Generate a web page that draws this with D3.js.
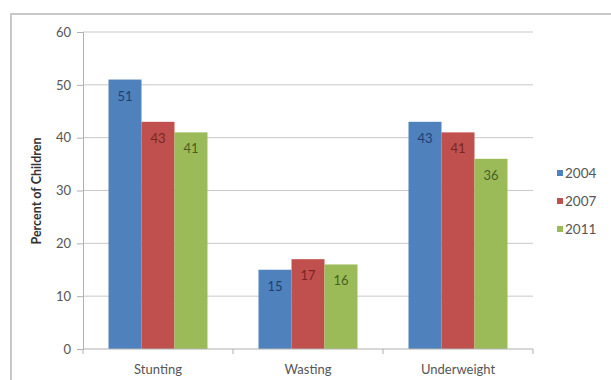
<!DOCTYPE html>
<html>
<head>
<meta charset="utf-8">
<script src="https://cdn.jsdelivr.net/npm/d3@7"></script>
<style>
  html, body { margin: 0; padding: 0; background: #fff; }
  svg { display: block; }
  text { font-family: Lato, "Open Sans", sans-serif; }
</style>
</head>
<body>
<svg id="chart" width="611" height="380"></svg>
<script>
// Child malnutrition indicators by survey year
const categories = ["Stunting", "Wasting", "Underweight"];
const years = ["2004", "2007", "2011"];
const values2004 = [51, 15, 43];
const values2007 = [43, 17, 41];
const values2011 = [41, 16, 36];
const yTicks = [0, 10, 20, 30, 40, 50, 60];

const seriesValues = [values2004, values2007, values2011];
const colors = ["#4f81bd", "#c0504d", "#9bbb59"];
const labelColors = ["#1f3f6e", "#7a2624", "#4a5f1e"];

const svg = d3.select("#chart");

// outer chart frame
svg.append("rect")
  .attr("x", 11).attr("y", 14)
  .attr("width", 640).attr("height", 400)
  .attr("fill", "none").attr("stroke", "#c8c8c8").attr("stroke-width", 2);

const plot = { left: 83, right: 533, top: 32, bottom: 349 };

const x = d3.scaleBand()
  .domain(categories)
  .range([plot.left, plot.right])
  .paddingInner(0.34)
  .paddingOuter(0.17);

const xs = d3.scaleBand()
  .domain(years)
  .range([0, x.bandwidth()]);

const y = d3.scaleLinear()
  .domain([0, 60])
  .range([plot.bottom, plot.top]);

// horizontal gridlines
svg.append("g")
  .selectAll("line")
  .data(yTicks.filter(d => d > 0))
  .join("line")
  .attr("x1", plot.left).attr("x2", plot.right)
  .attr("y1", d => y(d)).attr("y2", d => y(d))
  .attr("stroke", "#c8c8c8").attr("stroke-width", 1);

// y axis
const yAxis = svg.append("g")
  .attr("transform", `translate(${plot.left},0)`)
  .call(d3.axisLeft(y).tickValues(yTicks).tickSize(6).tickPadding(6));
yAxis.select(".domain").attr("stroke", "#b0b0b0");
yAxis.selectAll(".tick line").attr("stroke", "#b0b0b0");
yAxis.selectAll(".tick text")
  .attr("fill", "#555").style("font-size", "13px")
  .style("font-family", "Lato, 'Open Sans', sans-serif");

// bars
const groups = svg.append("g")
  .selectAll("g")
  .data(categories)
  .join("g")
  .attr("transform", c => `translate(${x(c)},0)`);

groups.each(function (c, ci) {
  const g = d3.select(this);
  years.forEach((yr, si) => {
    const v = seriesValues[si][ci];
    g.append("rect")
      .attr("x", xs(yr))
      .attr("y", y(v))
      .attr("width", xs.bandwidth())
      .attr("height", y(0) - y(v))
      .attr("fill", colors[si]);
    g.append("text")
      .attr("x", xs(yr) + xs.bandwidth() / 2)
      .attr("y", y(v) + 21)
      .attr("text-anchor", "middle")
      .attr("fill", labelColors[si])
      .style("font-size", "13px")
      .text(v);
  });
});

// x axis
const xAxisG = svg.append("g").attr("transform", `translate(0,${plot.bottom})`);
xAxisG.append("line")
  .attr("x1", plot.left).attr("x2", plot.right)
  .attr("stroke", "#b0b0b0");
const step = x.step();
xAxisG.selectAll("line.tick")
  .data(d3.range(categories.length + 1))
  .join("line")
  .attr("class", "tick")
  .attr("x1", i => plot.left + i * step).attr("x2", i => plot.left + i * step)
  .attr("y1", 0).attr("y2", 5)
  .attr("stroke", "#b0b0b0");
xAxisG.selectAll("text")
  .data(categories)
  .join("text")
  .attr("x", c => x(c) + x.bandwidth() / 2)
  .attr("y", 25)
  .attr("text-anchor", "middle")
  .attr("fill", "#555")
  .style("font-size", "13px")
  .text(c => c);

// y axis title
svg.append("text")
  .attr("transform", "translate(41,191) rotate(-90)")
  .attr("text-anchor", "middle")
  .attr("fill", "#333")
  .style("font-size", "12.5px")
  .style("font-weight", "bold")
  .text("Percent of Children");

// legend
const legend = svg.append("g")
  .selectAll("g")
  .data(years)
  .join("g")
  .attr("transform", (d, i) => `translate(557,${173 + i * 28})`);
legend.append("rect")
  .attr("x", 0).attr("y", -3)
  .attr("width", 6).attr("height", 6)
  .attr("fill", (d, i) => colors[i]);
legend.append("text")
  .attr("x", 8).attr("y", 5)
  .attr("fill", "#555")
  .style("font-size", "13.5px")
  .text(d => d);
</script>
</body>
</html>
